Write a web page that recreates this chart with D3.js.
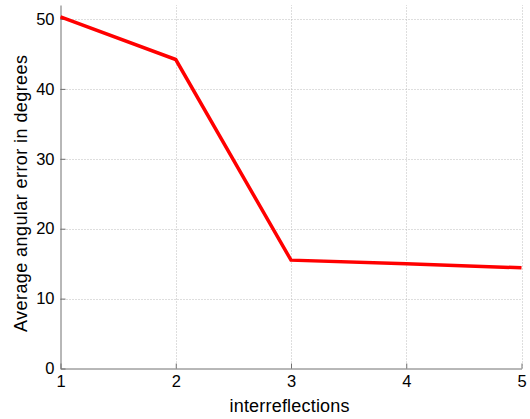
<!DOCTYPE html>
<html>
<head>
<meta charset="utf-8">
<script src="https://cdn.jsdelivr.net/npm/d3@7"></script>
<style>
  html, body { margin: 0; padding: 0; background: #fff; }
  svg { display: block; font-family: "Liberation Sans", Arial, Helvetica, sans-serif; }
</style>
</head>
<body>
<svg id="chart" width="530" height="419"></svg>
<script>
// Average angular error for each number of interreflections
const interreflections = [1, 2, 3, 4, 5];
const angularError = [50.3, 44.2, 15.5, 15.0, 14.4];
const xTicks = [1, 2, 3, 4, 5];
const yTicks = [0, 10, 20, 30, 40, 50];

const W = 530, H = 419;
const margin = { left: 60.5, right: 8.5, top: 5, bottom: 50.5 };
const svg = d3.select("#chart");

const x = d3.scaleLinear().domain([1, 5]).range([margin.left, W - margin.right]);
const y = d3.scaleLinear().domain([0, 52]).range([H - margin.bottom, margin.top]);

// dotted grid
const grid = svg.append("g").attr("stroke", "#bdbdbd").attr("stroke-width", 1)
  .attr("stroke-dasharray", "1,2");
grid.selectAll(".gx").data(xTicks.slice(1)).join("line")
  .attr("x1", d => Math.round(x(d)) + 0.5).attr("x2", d => Math.round(x(d)) + 0.5)
  .attr("y1", y(0)).attr("y2", y(52));
grid.selectAll(".gy").data(yTicks.slice(1)).join("line")
  .attr("x1", x(1)).attr("x2", x(5))
  .attr("y1", d => Math.round(y(d)) + 0.5).attr("y2", d => Math.round(y(d)) + 0.5);

// axes, ticks pointing inward
const xAxis = d3.axisBottom(x).tickValues(xTicks).tickFormat(d3.format("d"))
  .tickSizeInner(-5).tickSizeOuter(0).tickPadding(7);
const yAxis = d3.axisLeft(y).tickValues(yTicks).tickFormat(d3.format("d"))
  .tickSizeInner(-5).tickSizeOuter(0).tickPadding(6);

const gx = svg.append("g").attr("transform", `translate(0,${y(0)})`).call(xAxis);
const gy = svg.append("g").attr("transform", `translate(${x(1)},0)`).call(yAxis);
[gx, gy].forEach(g => {
  g.select(".domain").attr("stroke", "#707070");
  g.selectAll(".tick line").attr("stroke", "#707070");
  g.selectAll(".tick text").attr("fill", "#000").attr("font-size", 16.5)
    .attr("font-family", "Liberation Sans, Arial, sans-serif");
});

// data line
const line = d3.line().x((d, i) => x(interreflections[i])).y(d => y(d));
svg.append("path").datum(angularError)
  .attr("d", line)
  .attr("fill", "none")
  .attr("stroke", "#ff0000")
  .attr("stroke-width", 3.5)
  .attr("stroke-linejoin", "miter");

// axis titles
svg.append("text")
  .attr("x", 289.5).attr("y", 412)
  .attr("text-anchor", "middle").attr("font-size", 18)
  .attr("textLength", 120).attr("lengthAdjust", "spacing")
  .text("interreflections");
svg.append("text")
  .attr("transform", `translate(27,193.5) rotate(-90)`)
  .attr("text-anchor", "middle").attr("font-size", 18)
  .attr("textLength", 277).attr("lengthAdjust", "spacing")
  .text("Average angular error in degrees");
</script>
</body>
</html>
